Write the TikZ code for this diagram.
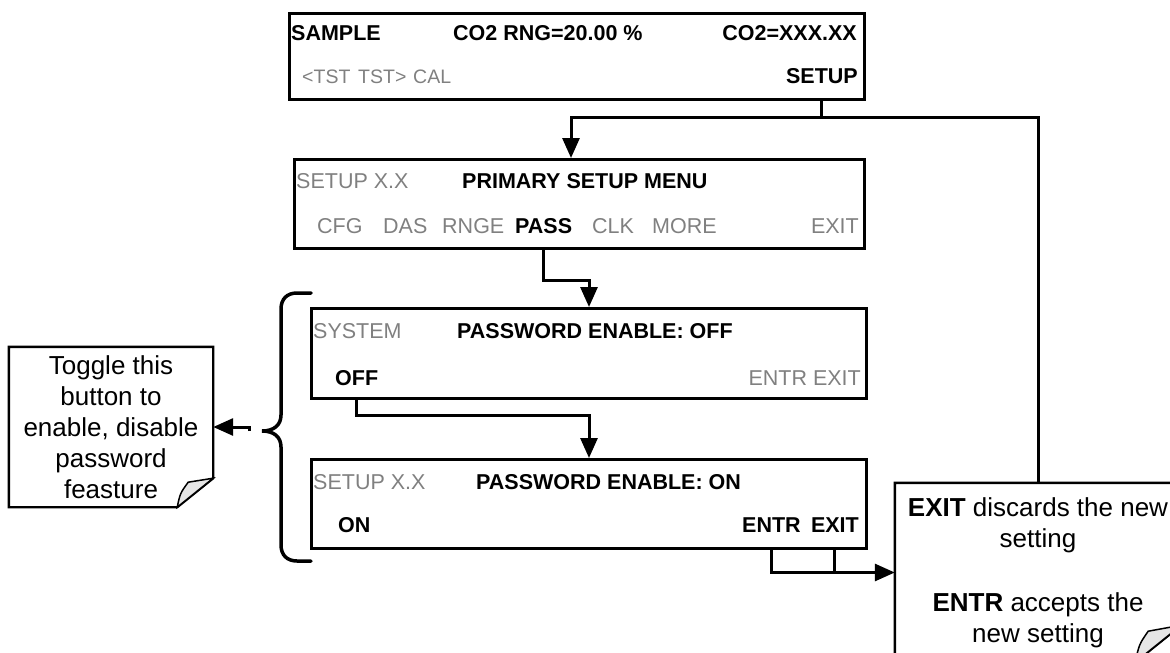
\documentclass[tikz,border=0pt]{standalone}
\usepackage{fontspec}
\setmainfont{Liberation Sans}
\usetikzlibrary{arrows.meta}
\definecolor{dimtext}{RGB}{128,128,128}
\definecolor{foldgray}{RGB}{230,230,230}

\begin{document}
\begin{tikzpicture}[x=1pt,y=-1pt,
	screen/.style={draw, line width=3pt, inner sep=0pt, anchor=north west},
	key/.style={inner sep=0pt, anchor=base west, font=\fontsize{21.5}{24}\selectfont},
	hot/.style={key, font=\fontsize{21.5}{24}\selectfont\bfseries},
	dim/.style={key, text=dimtext},
	small/.style={dim, font=\fontsize{19.5}{22}\selectfont},
	wire/.style={line width=3pt},
	conn/.style={wire, -{Triangle[length=20pt,width=17pt]}},
	memo/.style={inner sep=0pt, align=center, font=\fontsize{26}{31}\selectfont},
	memoline/.style={line width=2.4pt},
	foldline/.style={line width=1.5pt, fill=foldgray},
	brace/.style={line width=3.5pt, line cap=round},
]

% frame %{{{2

	\useasboundingbox (0,0) rectangle (1170,653);
	\clip (0,0) rectangle (1170,653);

% screens %{{{2

	\node[screen, minimum width=575pt, minimum height=86pt] (sample) at (288,12) {};
	\node[screen, minimum width=570pt, minimum height=89pt] (primary) at (293,158) {};
	\node[screen, minimum width=555pt, minimum height=90pt] (pwoff) at (310,307) {};
	\node[screen, minimum width=555pt, minimum height=89pt] (pwon) at (310,458) {};

% sample screen texts %{{{2

	\node[hot] (samplelbl) at (291,40) {SAMPLE};
	\node[hot] (rangelbl) at (453,40) {CO2 RNG=20.00 \%};
	\node[hot, anchor=base east] (readlbl) at (857,40) {CO2=XXX.XX};

	\node[small] (tstback) at (302,83) {<TST};
	\node[small] (tstfwd) at (358,83) {TST>};
	\node[small] (calkey) at (413,83) {CAL};
	\node[hot, anchor=base east] (setupkey) at (858,83) {SETUP};

% primary setup menu texts %{{{2

	\node[dim] (primaryver) at (296,188) {SETUP X.X};
	\node[hot] (primarytitle) at (462,188) {PRIMARY SETUP MENU};

	\foreach \x/\lbl in {317/CFG, 383/DAS, 442/RNGE, 592/CLK, 652/MORE} {
		\node[dim] (key\lbl) at (\x,233) {\lbl};
	}
	\node[hot] (passkey) at (515,233) {PASS};
	\node[dim, anchor=base east] (primaryexit) at (859,233) {EXIT};

% password enable screens texts %{{{2

	\node[dim] (systemlbl) at (313,338) {SYSTEM};
	\node[hot] (offtitle) at (457,338) {PASSWORD ENABLE: OFF};
	\node[hot] (offkey) at (335,385) {OFF};
	\node[dim, anchor=base east] (offkeys) at (861,385) {ENTR EXIT};

	\node[dim] (onver) at (313,489) {SETUP X.X};
	\node[hot] (ontitle) at (476,489) {PASSWORD ENABLE: ON};
	\node[hot] (onkey) at (338,532) {ON};
	\node[hot] (entrkey) at (742,532) {ENTR};
	\node[hot, anchor=base east] (exitkey) at (859,532) {EXIT};

% notes %{{{2

	\node[memo, minimum width=204pt, minimum height=160pt] (togglenote) at (111,427)
		{Toggle this\\button to\\enable, disable\\password\\feasture};
	\draw[memoline] (togglenote.north west) -- (togglenote.north east)
		-- ([yshift=29pt]togglenote.south east) -- ([xshift=-36pt]togglenote.south east)
		-- (togglenote.south west) -- cycle;
	\draw[foldline] ([xshift=-36pt]togglenote.south east)
		.. controls ([xshift=-33pt,yshift=14pt]togglenote.south east) .. ([xshift=-25pt,yshift=25pt]togglenote.south east)
		-- ([yshift=29pt]togglenote.south east) -- cycle;

	\node[memo, minimum width=286pt, minimum height=179pt] (exitnote) at (1038,572.5)
		{\textbf{EXIT} discards the new\\setting\\[33pt]\textbf{ENTR} accepts the\\new setting};
	\draw[memoline] (exitnote.north west) -- (exitnote.north east)
		-- ([yshift=37pt]exitnote.south east) -- ([xshift=-46pt]exitnote.south east)
		-- (exitnote.south west) -- cycle;
	\draw[foldline] ([xshift=-46pt]exitnote.south east)
		.. controls ([xshift=-42pt,yshift=18pt]exitnote.south east) .. ([xshift=-33pt,yshift=31pt]exitnote.south east)
		-- ([yshift=37pt]exitnote.south east) -- cycle;

% connectors %{{{2

	\coordinate (bus) at (571,117);

	\draw[wire] (setupkey.south |- sample.south) -- (setupkey.south |- bus);
	\draw[conn] (exitnote.north) -- (exitnote.north |- bus) -- (bus) -- (bus |- primary.north);

	\draw[conn] (passkey.south |- primary.south) -- ++(0,30) -| (pwoff.north);
	\draw[conn] (offkey.south |- pwoff.south) -- ++(0,15) -| (pwon.north);

	\draw[conn] (entrkey.south |- pwon.south) |- (exitnote.west);
	\draw[wire] (exitkey.south |- pwon.south) -- (exitkey.south |- exitnote.west);

% brace %{{{2

	\coordinate (bracetip) at (262,431);
	\coordinate (bracetail) at (249,431);

	\draw[brace] (311,293) -- (297,293) .. controls (287,293) and (281,299) .. (281,309)
		-- (281,415) .. controls (281,425) and (274,431) .. (bracetip)
		.. controls (274,431) and (281,437) .. (281,447)
		-- (281,545) .. controls (281,555) and (287,561) .. (297,561) -- (311,561);

	\draw[conn] (bracetail) |- (togglenote.east);

% closing %{{{2

\end{tikzpicture}
\end{document}
